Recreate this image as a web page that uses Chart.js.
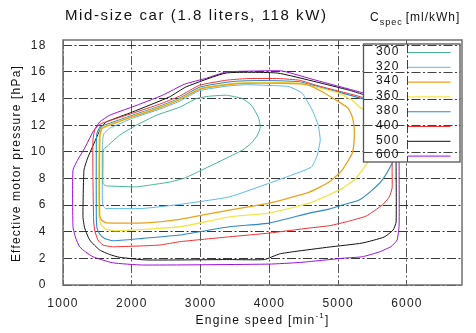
<!DOCTYPE html>
<html>
<head>
<meta charset="utf-8">
<script src="https://cdn.jsdelivr.net/npm/chart.js@4.4.1/dist/chart.umd.min.js"></script>
<style>
  html, body { margin: 0; padding: 0; background: #fff; }
  #wrap { width: 476px; height: 333px; position: relative; }
</style>
</head>
<body>
<div id="wrap"><canvas id="map"></canvas></div>
<script>
// Specific consumption levels (ml/kWh) and axis ticks
const levels = [300, 320, 340, 360, 380, 400, 500, 600];
const xTicks = [1000, 2000, 3000, 4000, 5000, 6000];
const yTicks = [0, 2, 4, 6, 8, 10, 12, 14, 16, 18];

// Contour lines as [engine speed, pressure] (closed loops)
const c300 = [[1581,10.13],[1581,9.0],[1581,7.63],[1620,7.46],[1678,7.43],[2065,7.37],[2258,7.5],[2549,7.73],
  [2766,8.03],[2984,8.55],[3317,9.38],[3608,10.13],[3738,10.65],[3825,11.25],[3869,11.85],[3840,12.6],
  [3738,13.5],[3608,14.0],[3376,14.25],[3129,14.18],[2940,14.0],[2694,13.35],[2360,12.75],[2065,12.0],
  [1823,11.25],[1581,10.13]];
const c320 = [[1678,11.78],[1591,11.33],[1572,10.5],[1572,6.38],[1584,5.93],[1620,5.75],[2157,5.75],[2694,6.05],
  [3419,6.62],[3999,7.65],[4609,8.85],[4696,9.75],[4739,10.88],[4710,12.0],[4623,13.13],[4478,14.4],
  [4290,14.89],[4144,14.96],[3666,15.04],[3376,14.93],[2984,14.59],[2694,13.8],[2404,13.2],[2012,12.53],
  [1678,11.78]];
const c340 = [[1562,11.74],[1537,11.18],[1533,5.25],[1559,4.88],[1630,4.67],[2210,4.67],[2694,4.93],[3419,5.63],
  [3999,6.15],[4580,6.98],[4870,7.73],[5058,8.63],[5204,9.9],[5233,10.88],[5233,11.85],[5200,12.7],
  [5140,13.3],[4971,13.88],[4754,14.55],[4580,15.0],[4435,15.11],[4144,15.15],[3666,15.15],[3376,15.04],
  [2984,14.7],[2694,13.91],[2404,13.31],[2012,12.64],[1617,11.89],[1562,11.74]];
const c360 = [[1557,11.78],[1526,11.25],[1523,5.25],[1547,4.58],[1620,4.2],[1775,4.07],[2694,4.37],[3419,5.12],
  [3999,5.4],[4580,6.15],[5015,7.13],[5233,7.88],[5349,8.63],[5450,9.38],[5523,10.88],[5523,12.0],
  [5421,12.98],[5305,13.38],[5204,13.88],[5015,14.4],[4681,14.86],[4435,15.15],[4144,15.19],[3666,15.19],
  [3376,15.08],[2984,14.74],[2694,13.95],[2404,13.35],[2012,12.68],[1610,11.93],[1557,11.78]];
const c380 = [[1533,11.85],[1494,11.4],[1484,10.5],[1484,5.25],[1494,4.28],[1533,3.83],[1605,3.5],[1721,3.32],
  [2157,3.5],[2694,3.75],[3419,4.37],[3999,4.65],[4580,5.4],[4870,5.7],[5015,5.93],[5305,6.38],
  [5494,7.13],[5639,7.88],[5784,9.15],[5857,10.13],[5857,11.63],[5741,12.97],[5523,13.65],[5349,13.99],
  [5015,14.47],[4681,14.93],[4435,15.26],[4144,15.34],[3666,15.34],[3376,15.23],[2984,14.85],[2694,14.03],
  [2404,13.43],[2012,12.75],[1596,12.0],[1533,11.85]];
const c400 = [[1508,11.96],[1460,11.63],[1435,10.88],[1435,8.25],[1445,4.88],[1460,4.13],[1508,3.38],[1581,3.0],
  [1721,2.87],[2404,3.0],[2694,3.25],[3419,3.62],[3999,3.9],[4580,4.28],[4870,4.45],[5160,4.8],
  [5407,5.18],[5639,6.0],[5741,6.6],[5784,7.28],[5784,8.63],[5784,11.63],[5712,12.75],[5523,13.65],
  [5349,14.1],[5015,14.55],[4681,15.0],[4435,15.38],[4144,15.5],[3666,15.5],[3376,15.38],[2984,15.0],
  [2694,14.18],[2404,13.58],[2012,12.9],[1567,12.15],[1508,11.96]];
const c500 = [[1557,11.87],[1460,10.75],[1358,9.53],[1305,8.63],[1290,5.12],[1315,4.28],[1388,3.38],[1533,2.63],
  [1678,2.29],[1823,2.08],[2210,1.88],[3419,1.91],[3927,1.91],[4144,2.33],[4362,2.51],[4870,2.85],
  [5349,3.15],[5668,3.6],[5799,4.13],[5842,4.73],[5842,9.15],[5842,12.75],[5770,13.5],[5596,13.9],
  [5349,14.33],[5160,14.63],[4681,15.25],[4115,15.92],[3371,15.92],[2790,14.88],[2549,14.13],[2012,13.0],
  [1630,12.25],[1557,11.87]];
const c600 = [[1533,12.25],[1435,11.5],[1315,10.28],[1228,9.53],[1145,8.63],[1145,4.37],[1184,3.53],[1242,2.87],
  [1329,2.48],[1435,2.12],[1721,1.67],[2157,1.5],[3999,1.57],[4435,1.69],[5117,2.03],[5349,2.12],
  [5596,2.48],[5770,2.89],[5857,3.38],[5886,4.5],[5886,9.15],[5886,12.75],[5813,13.65],[5596,14.1],
  [5305,14.51],[4675,15.38],[4188,16.07],[3807,16.07],[3371,16.0],[3085,15.53],[2766,15.08],[2447,14.25],
  [2012,13.38],[1678,12.75],[1533,12.25]];

const contours = [c300, c320, c340, c360, c380, c400, c500, c600];
const lineColors = ['#45b496', '#5ab8ea', '#e9a21a', '#f2e650', '#2f88c6', '#ee3030', '#111111', '#9a10dc'];
const lineWidths = [1, 1, 1.3, 1.4, 1.1, 1, 1, 1];

const FONT = '"Liberation Sans", Arial, Helvetica, sans-serif';
const gridDash = [9, 2.5, 2, 2.5];

// Legend box, title texts and frame drawn on top of the contours
const mapDecor = {
    id: 'mapDecor',
    beforeDraw(chart) {
        chart.ctx.letterSpacing = '1.2px';
    },
    afterDatasetsDraw(chart) {
        const ctx = chart.ctx;
        const area = chart.chartArea;
        const xs = chart.scales.x, ys = chart.scales.y;
        const left = area.right - 98.5, top = area.top + 4, w = 96.5, h = 118;
        const rowH = 14.8;

        ctx.save();
        ctx.fillStyle = '#fff';
        ctx.fillRect(left, top, w, h);

        ctx.font = '12px ' + FONT;
        ctx.letterSpacing = '1.2px';
        ctx.textAlign = 'right';
        ctx.textBaseline = 'middle';
        chart.data.datasets.forEach((ds, i) => {
            const cy = top + 7.5 + i * rowH;
            ctx.fillStyle = '#111';
            ctx.fillText(ds.label, left + 36, cy);
            ctx.strokeStyle = ds.borderColor;
            ctx.lineWidth = ds.borderWidth;
            ctx.beginPath();
            ctx.moveTo(left + 44.5, cy + 1);
            ctx.lineTo(left + 87, cy + 1);
            ctx.stroke();
        });

        // grid shows through the key
        ctx.beginPath();
        ctx.rect(left, top, w, h);
        ctx.clip();
        ctx.setLineDash(gridDash);
        ctx.lineWidth = 1;
        ctx.strokeStyle = 'rgba(30,30,30,0.85)';
        xTicks.forEach(v => {
            const px = Math.round(xs.getPixelForValue(v)) + 0.5;
            ctx.beginPath(); ctx.moveTo(px, top); ctx.lineTo(px, top + h); ctx.stroke();
        });
        yTicks.forEach(v => {
            const py = Math.round(ys.getPixelForValue(v)) + 0.5;
            ctx.beginPath(); ctx.moveTo(left, py); ctx.lineTo(left + w, py); ctx.stroke();
        });
        ctx.restore();

        ctx.save();
        ctx.strokeStyle = '#555';
        ctx.lineWidth = 1.3;
        ctx.strokeRect(left, top, w, h);
        ctx.restore();
    },
    afterDraw(chart) {
        const ctx = chart.ctx;
        const area = chart.chartArea;
        ctx.save();
        ctx.strokeStyle = '#707070';
        ctx.lineWidth = 1.5;
        ctx.strokeRect(area.left, area.top, area.right - area.left, area.bottom - area.top);

        ctx.fillStyle = '#111';
        ctx.textBaseline = 'alphabetic';
        ctx.textAlign = 'left';

        // chart title
        ctx.font = '15px ' + FONT;
        ctx.letterSpacing = '1.6px';
        ctx.fillText('Mid-size car (1.8 liters, 118 kW)', 65, 20);

        // key title
        ctx.letterSpacing = '1px';
        ctx.font = '12px ' + FONT;
        let kx = 370;
        ctx.fillText('C', kx, 21);
        kx += ctx.measureText('C').width;
        ctx.font = '9px ' + FONT;
        ctx.fillText('spec', kx, 25);
        kx += ctx.measureText('spec').width + 3;
        ctx.font = '12px ' + FONT;
        ctx.fillText('[ml/kWh]', kx, 21);

        // x axis title with superscript
        ctx.letterSpacing = '1.2px';
        const partA = 'Engine speed [min', sup = '-1', partB = ']';
        ctx.font = '12px ' + FONT;
        const wA = ctx.measureText(partA).width, wB = ctx.measureText(partB).width;
        ctx.font = '8px ' + FONT;
        const wS = ctx.measureText(sup).width;
        let tx = (area.left + area.right) / 2 - (wA + wS + wB) / 2;
        ctx.font = '12px ' + FONT;
        ctx.fillText(partA, tx, 324);
        ctx.font = '8px ' + FONT;
        ctx.fillText(sup, tx + wA, 318);
        ctx.font = '12px ' + FONT;
        ctx.fillText(partB, tx + wA + wS, 324);

        // y axis title
        ctx.translate(17, (area.top + area.bottom) / 2 + 1);
        ctx.rotate(-Math.PI / 2);
        ctx.textAlign = 'center';
        ctx.textBaseline = 'middle';
        ctx.font = '12px ' + FONT;
        ctx.fillText('Effective motor pressure [hPa]', 0, 0);
        ctx.restore();
        ctx.letterSpacing = '0px';
    }
};

const datasets = levels.map((lvl, i) => ({
    label: String(lvl),
    data: contours[i].map(p => ({ x: p[0], y: p[1] })),
    borderColor: lineColors[i],
    borderWidth: lineWidths[i],
    pointRadius: 0,
    tension: 0.15,
    fill: false
}));

new Chart(document.getElementById('map'), {
    type: 'line',
    data: { datasets },
    plugins: [mapDecor],
    options: {
        responsive: true,
        maintainAspectRatio: false,
        animation: false,
        events: [],
        layout: { padding: { top: 40, right: 14, left: 0, bottom: 0 } },
        plugins: { legend: { display: false }, tooltip: { enabled: false } },
        scales: {
            x: {
                type: 'linear', min: 1000, max: 6800,
                afterBuildTicks: s => { s.ticks = xTicks.map(v => ({ value: v })); },
                afterFit: s => { s.height = 48; },
                grid: { color: 'rgba(40,40,40,0.8)', lineWidth: 1, drawTicks: false },
                border: { display: false, dash: gridDash },
                ticks: { padding: 11, color: '#222', maxRotation: 0, autoSkip: false,
                         callback: v => String(v),
                         font: { family: FONT, size: 12 } }
            },
            y: {
                type: 'linear', min: 0, max: 18.4,
                afterBuildTicks: s => { s.ticks = yTicks.map(v => ({ value: v })); },
                afterFit: s => { s.width = 63; },
                grid: { color: 'rgba(20,20,20,0.85)', lineWidth: 1, drawTicks: false },
                border: { display: false, dash: gridDash },
                ticks: { padding: 16.5, color: '#222', autoSkip: false,
                         callback: v => String(v),
                         font: { family: FONT, size: 12 } }
            }
        }
    }
});
</script>
</body>
</html>
